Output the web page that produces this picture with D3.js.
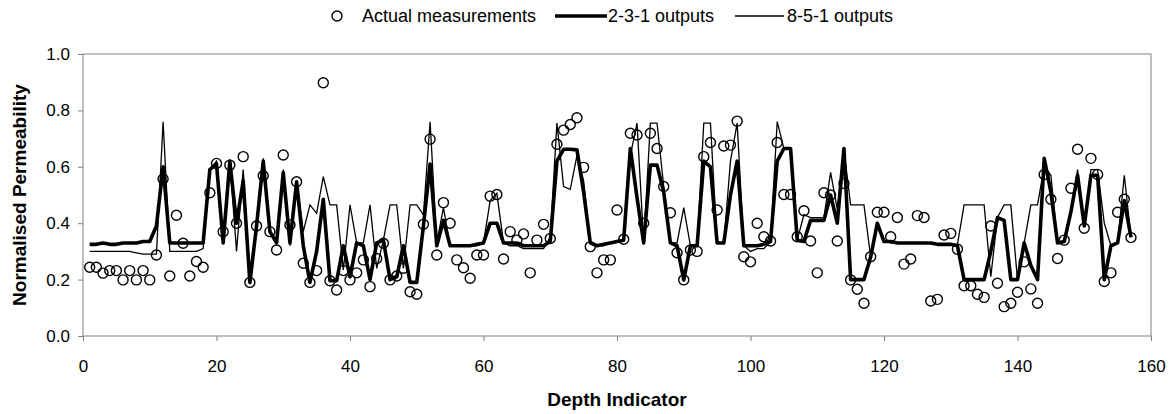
<!DOCTYPE html>
<head>
  <meta charset="utf-8">
  <title>Normalised Permeability</title>
  <script src="https://d3js.org/d3.v7.min.js"></script>
  <style type="text/css">
    body { margin: 0; background: #fff; }
    svg { font-family: "Liberation Sans", Arial, sans-serif; }
    .axis path, .axis line { stroke: #808080; }
    .axis text { font-size: 17px; fill: #000; }
    .title { font-size: 19px; font-weight: bold; }
    .legend text { font-size: 18px; }
  </style>
</head>
<body>
  <div id="graph-container"></div>

<script>
// =================== Data ======================
// depth indicator 1..157
const actual = [
  .244,.244,.223,.232,.232,.199,.232,.199,.232,.199,
  .287,.557,.213,.428,.329,.213,.264,.244,.508,.612,
  .37,.606,.40,.636,.19,.39,.568,.37,.305,.642,
  .394,.547,.258,.19,.232,.898,.196,.163,.232,.199,
  .224,.27,.175,.275,.329,.199,.213,.24,.157,.148,
  .396,.698,.287,.473,.40,.27,.242,.205,.287,.287,
  .496,.502,.273,.37,.34,.362,.224,.34,.396,.346,
  .68,.73,.75,.774,.598,.317,.224,.27,.27,.447,
  .343,.719,.713,.40,.719,.665,.53,.437,.295,.199,
  .305,.30,.636,.686,.447,.674,.677,.762,.281,.263,
  .40,.352,.337,.686,.502,.502,.352,.444,.337,.224,
  .508,.50,.337,.541,.199,.166,.116,.281,.439,.439,
  .352,.42,.255,.273,.427,.42,.124,.13,.358,.364,
  .308,.178,.178,.148,.137,.39,.187,.104,.116,.155,
  .263,.167,.116,.573,.485,.275,.34,.524,.662,.382,
  .63,.573,.193,.224,.439,.485,.349
];

const out231 = [
  .325,.325,.33,.325,.325,.33,.33,.33,.335,.335,
  .39,.60,.33,.33,.33,.33,.33,.33,.59,.61,
  .33,.62,.40,.55,.19,.39,.62,.37,.33,.58,
  .33,.547,.32,.19,.30,.485,.196,.196,.32,.21,
  .33,.32,.20,.33,.34,.20,.21,.32,.19,.19,
  .39,.61,.32,.41,.32,.32,.32,.32,.325,.33,
  .40,.40,.33,.33,.33,.32,.32,.32,.32,.335,
  .62,.662,.662,.66,.51,.33,.32,.325,.33,.335,
  .34,.665,.49,.33,.606,.606,.51,.33,.32,.199,
  .32,.32,.62,.60,.33,.33,.50,.62,.32,.32,
  .32,.325,.335,.62,.665,.665,.34,.335,.41,.41,
  .41,.50,.40,.665,.20,.20,.20,.28,.40,.335,
  .335,.33,.33,.33,.33,.33,.33,.325,.325,.325,
  .32,.20,.20,.20,.20,.30,.42,.41,.20,.20,
  .33,.25,.20,.63,.51,.33,.335,.44,.57,.39,
  .57,.57,.20,.32,.33,.48,.35
];

const out851 = [
  .30,.30,.30,.30,.30,.30,.30,.295,.29,.29,
  .29,.76,.30,.30,.30,.30,.30,.31,.59,.62,
  .33,.62,.30,.59,.21,.40,.63,.37,.34,.59,
  .32,.55,.37,.465,.435,.565,.465,.465,.234,.465,
  .33,.33,.465,.24,.34,.465,.465,.24,.465,.465,
  .43,.76,.33,.455,.32,.32,.32,.32,.32,.33,
  .48,.506,.33,.32,.32,.31,.31,.31,.31,.35,
  .755,.53,.52,.64,.55,.33,.32,.32,.33,.335,
  .34,.64,.755,.33,.755,.755,.53,.33,.33,.455,
  .32,.32,.755,.755,.33,.33,.62,.755,.32,.30,
  .31,.31,.335,.76,.665,.665,.34,.43,.42,.42,
  .42,.58,.45,.66,.465,.465,.465,.28,.40,.335,
  .33,.33,.33,.33,.33,.33,.33,.325,.325,.325,
  .325,.465,.465,.465,.465,.21,.42,.465,.465,.20,
  .33,.465,.465,.60,.57,.33,.335,.44,.59,.39,
  .59,.59,.40,.32,.33,.57,.35
];

const xTicks = [0, 20, 40, 60, 80, 100, 120, 140, 160];
const yTicks = [0, 0.2, 0.4, 0.6, 0.8, 1.0];

// =================== Chart ======================
const width = 1173, height = 414;
const plot = { left: 83, right: 1151, top: 54, bottom: 336 };

const svg = d3.select("#graph-container").append("svg")
    .attr("width", width)
    .attr("height", height);

const x = d3.scaleLinear().domain([0, 160]).range([plot.left, plot.right]);
const y = d3.scaleLinear().domain([0, 1]).range([plot.bottom, plot.top]);

// plot area frame
svg.append("rect")
  .attr("x", plot.left).attr("y", plot.top)
  .attr("width", plot.right - plot.left)
  .attr("height", plot.bottom - plot.top)
  .attr("fill", "none")
  .attr("stroke", "#808080");

svg.append("g")
  .attr("class", "axis")
  .attr("transform", "translate(0," + plot.bottom + ")")
  .call(d3.axisBottom(x).tickValues(xTicks).tickSize(5).tickPadding(19).tickSizeOuter(0))
  .call(g => g.select(".domain").remove());

svg.append("g")
  .attr("class", "axis")
  .attr("transform", "translate(" + plot.left + ",0)")
  .call(d3.axisLeft(y).tickValues(yTicks).tickFormat(d3.format(".1f")).tickSize(5).tickPadding(8).tickSizeOuter(0))
  .call(g => g.select(".domain").remove());

svg.selectAll(".axis text").attr("font-family", "Liberation Sans, Arial, sans-serif");

// axis titles
svg.append("text")
  .attr("class", "title")
  .attr("x", (plot.left + plot.right) / 2)
  .attr("y", 406)
  .attr("text-anchor", "middle")
  .text("Depth Indicator");

svg.append("text")
  .attr("class", "title")
  .attr("transform", "translate(26," + ((plot.top + plot.bottom) / 2) + ") rotate(-90)")
  .attr("text-anchor", "middle")
  .text("Normalised Permeability");

// measurements
const idx = d3.range(1, actual.length + 1);

svg.append("g").selectAll("circle")
  .data(actual)
  .enter().append("circle")
    .attr("cx", (d, i) => x(idx[i]))
    .attr("cy", d => y(d))
    .attr("r", 5)
    .attr("fill", "none")
    .attr("stroke", "#000")
    .attr("stroke-width", 1.4);

const line = d3.line().x((d, i) => x(idx[i])).y(d => y(d));

svg.append("path")
  .datum(out851)
  .attr("d", line)
  .attr("fill", "none")
  .attr("stroke", "#000")
  .attr("stroke-width", 1.3);

svg.append("path")
  .datum(out231)
  .attr("d", line)
  .attr("fill", "none")
  .attr("stroke", "#000")
  .attr("stroke-width", 3.6)
  .attr("stroke-linejoin", "round");

// legend
const legend = svg.append("g").attr("class", "legend");
const ly = 16;

legend.append("circle")
  .attr("cx", 337).attr("cy", ly).attr("r", 5)
  .attr("fill", "none").attr("stroke", "#000").attr("stroke-width", 1.4);
legend.append("text").attr("x", 362).attr("y", ly + 6).text("Actual measurements");

legend.append("line")
  .attr("x1", 555).attr("x2", 607).attr("y1", ly).attr("y2", ly)
  .attr("stroke", "#000").attr("stroke-width", 3.6);
legend.append("text").attr("x", 608).attr("y", ly + 6).text("2-3-1 outputs");

legend.append("line")
  .attr("x1", 735).attr("x2", 784).attr("y1", ly).attr("y2", ly)
  .attr("stroke", "#000").attr("stroke-width", 1.3);
legend.append("text").attr("x", 787).attr("y", ly + 6).text("8-5-1 outputs");
</script>
</body>
